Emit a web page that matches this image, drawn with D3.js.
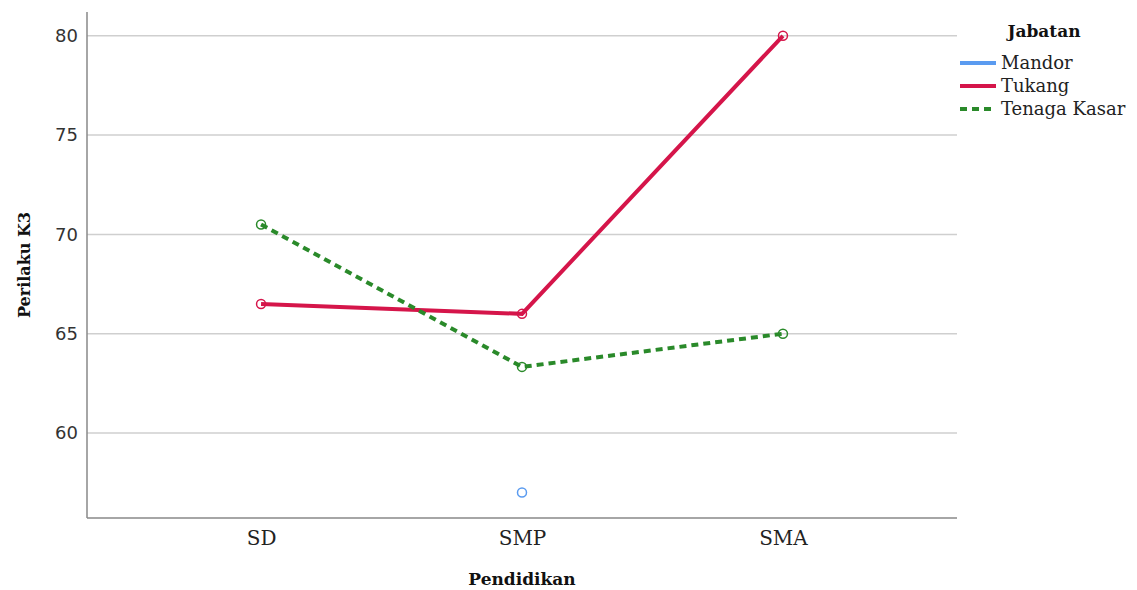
<!DOCTYPE html>
<html><head><meta charset="utf-8">
<script src="https://cdn.jsdelivr.net/npm/d3@7"></script>
<style>body{margin:0;background:#fff}</style>
</head><body>
<svg id="c" width="1137" height="590"></svg>
<script>
const categories = ["SD","SMP","SMA"];
const seriesNames = ["Mandor","Tukang","Tenaga Kasar"];
const mandor = [null, 57, null];
const tukang = [66.5, 66, 80];
const tenagaKasar = [70.5, 63.33, 65];
const yTicks = [60,65,70,75,80];

const colors = ["#5a9bf0","#d5154a","#2a8a2a"];
const dashes = [null,null,"7,5"];
const seriesData = [mandor, tukang, tenagaKasar];
const SERIF = "DejaVu Serif, serif";

const svg = d3.select("#c");
const L=87, R=957, T=12, B=518;
const x = d3.scalePoint().domain(categories).range([L,R]).padding(0.667);
const y = d3.scaleLinear().domain([55.72, 81.2]).range([B,T]);

// gridlines
svg.append("g").selectAll("line").data(yTicks).join("line")
  .attr("x1",L).attr("x2",R).attr("y1",d=>y(d)).attr("y2",d=>y(d))
  .attr("stroke","#cfcfcf").attr("stroke-width",1.5);

// axes
const ya = svg.append("g").attr("transform",`translate(${L},0)`)
  .call(d3.axisLeft(y).tickValues(yTicks).tickSize(0).tickPadding(9));
ya.select(".domain").attr("stroke","#888").attr("stroke-width",1.5).attr("d",`M0,${T}V${B}`);
ya.selectAll("text").attr("font-family","DejaVu Sans, sans-serif").attr("font-size",18).attr("fill","#333");

const xa = svg.append("g").attr("transform",`translate(0,${B})`)
  .call(d3.axisBottom(x).tickSize(0).tickPadding(13));
xa.select(".domain").attr("stroke","#888").attr("stroke-width",1.5).attr("d",`M${L},0H${R}`);
xa.selectAll("text").attr("font-family",SERIF).attr("font-size",20).attr("fill","#222");

// axis titles
svg.append("text").attr("x",522).attr("y",585).attr("text-anchor","middle")
  .attr("font-family",SERIF).attr("font-weight","bold").attr("font-size",17).attr("fill","#111").text("Pendidikan");
svg.append("text").attr("transform",`translate(30,265) rotate(-90)`).attr("text-anchor","middle")
  .attr("font-family",SERIF).attr("font-weight","bold").attr("font-size",16).attr("fill","#111").text("Perilaku K3");

// lines & points
const line = d3.line().defined(d=>d.v!=null).x(d=>x(d.c)).y(d=>y(d.v));
seriesData.forEach((arr,i)=>{
  const pts = arr.map((v,j)=>({c:categories[j],v}));
  svg.append("path").datum(pts).attr("d",line).attr("fill","none")
    .attr("stroke",colors[i]).attr("stroke-width",4)
    .attr("stroke-dasharray",dashes[i]);
  svg.append("g").selectAll("circle").data(pts.filter(d=>d.v!=null)).join("circle")
    .attr("cx",d=>x(d.c)).attr("cy",d=>y(d.v)).attr("r",4.5)
    .attr("fill","none").attr("stroke",colors[i]).attr("stroke-width",1.5);
});

// legend
const lg = svg.append("g");
lg.append("text").attr("x",1044).attr("y",37).attr("text-anchor","middle")
  .attr("font-family",SERIF).attr("font-weight","bold").attr("font-size",17).attr("fill","#111").text("Jabatan");
seriesNames.forEach((n,i)=>{
  const yy = 63 + i*23;
  lg.append("line").attr("x1",960).attr("x2",996).attr("y1",yy).attr("y2",yy)
    .attr("stroke",colors[i]).attr("stroke-width",4).attr("stroke-dasharray",dashes[i]);
  lg.append("text").attr("x",1001).attr("y",yy+6)
    .attr("font-family",SERIF).attr("font-size",18).attr("fill","#222").text(n);
});
</script>
</body></html>
